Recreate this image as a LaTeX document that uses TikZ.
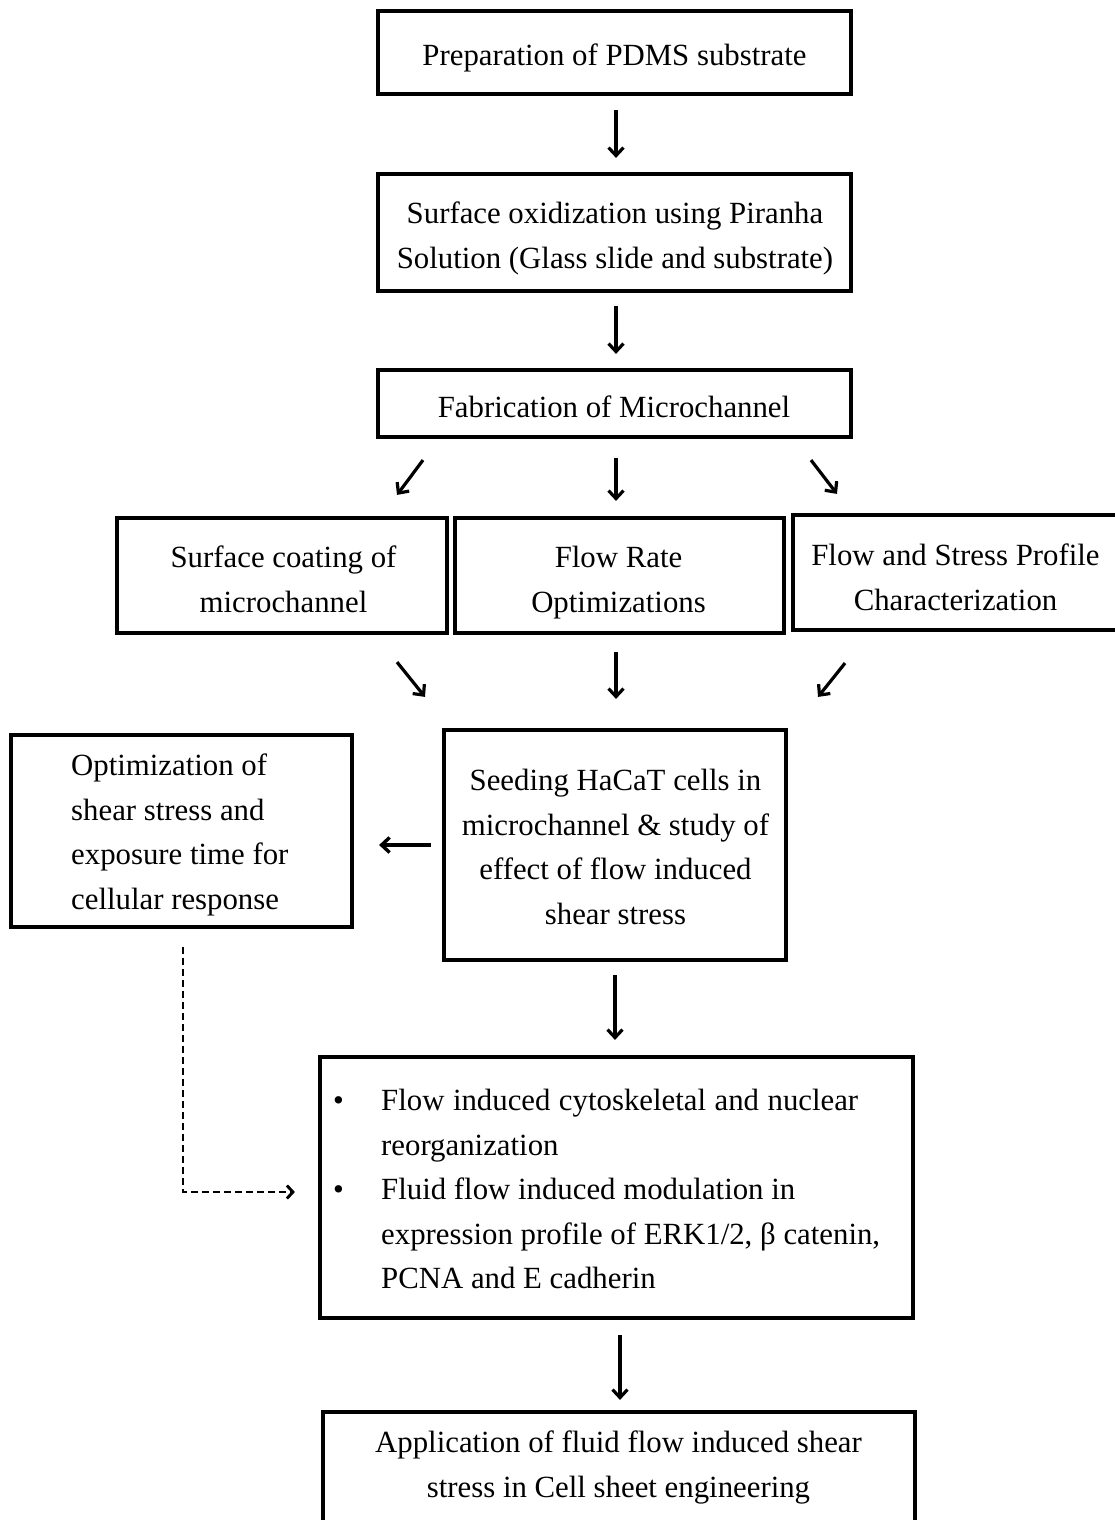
\documentclass[tikz,border=0pt]{standalone}
\usepackage{fontspec}
\setmainfont{Liberation Serif}
\usetikzlibrary{arrows.meta}
\begin{document}
\begin{tikzpicture}[x=1pt,y=-1pt,
  box/.style={draw=black, line width=3.2pt, inner sep=0pt, rectangle},
  txt/.style={inner sep=0pt, align=center, anchor=north, font=\fontsize{30.8pt}{44.5pt}\selectfont},
  txtl/.style={inner sep=0pt, align=left, anchor=north west, font=\fontsize{30.8pt}{44.5pt}\selectfont},
  arr/.style={line width=3.2pt, -{Straight Barb[length=8pt,width=15pt]}},
  dasharr/.style={line width=2.9pt, dash pattern=on 7pt off 4pt, -{Straight Barb[length=6pt,width=13pt]}}
]
\useasboundingbox (0,0) rectangle (1115,1520);
\fill[white] (0,0) rectangle (1115,1520);

% boxes
\node[box, minimum width=473pt, minimum height=83pt]  (pdms) at (614.5,52.5) {};
\node[box, minimum width=473pt, minimum height=117pt] (oxid) at (614.5,232.5) {};
\node[box, minimum width=473pt, minimum height=67pt]  (fab)  at (614.5,403.5) {};
\node[box, minimum width=330pt, minimum height=115pt] (coat) at (282,575.5) {};
\node[box, minimum width=329pt, minimum height=115pt] (rate) at (619.5,575.5) {};
\node[box, minimum width=326pt, minimum height=115pt] (prof) at (956,572.5) {};
\node[box, minimum width=342pt, minimum height=230pt] (seed) at (615,845) {};
\node[box, minimum width=341pt, minimum height=192pt] (optim) at (181.5,831) {};
\node[box, minimum width=593pt, minimum height=261pt] (bul) at (616.5,1187.5) {};
\node[box, minimum width=592pt, minimum height=156pt] (appl) at (619,1490) {};

% texts
\node[txt] (pdmst) at (614.5,44) {Preparation of PDMS substrate};
\node[txt] (oxidt) at (615,202) {Surface oxidization using Piranha\\Solution (Glass slide and substrate)};
\node[txt] (fabt) at (614,396) {Fabrication of Microchannel};
\node[txt] (coatt) at (283.5,546) {Surface coating of\\microchannel};
\node[txt] (ratet) at (618.5,546) {Flow Rate\\Optimizations};
\node[txt] (proft) at (955.5,544) {Flow and Stress Profile\\Characterization};
\node[txt] (seedt) at (615.5,769) {Seeding HaCaT cells in\\microchannel \& study of\\effect of flow induced\\shear stress};
\node[txtl] (optimt) at (71,754) {Optimization of\\shear stress and\\exposure time for\\cellular response};
\node[txtl] (bult) at (333,1089) {\makebox[48pt][l]{•}\makebox[477pt][s]{Flow induced cytoskeletal and nuclear}\\
\hspace*{48pt}reorganization\\
\makebox[48pt][l]{•}Fluid flow induced modulation in\\
\hspace*{48pt}expression profile of ERK1/2, β catenin,\\
\hspace*{48pt}PCNA and E cadherin};
\node[txt] (applt) at (618.5,1431) {Application of fluid flow induced shear\\stress in Cell sheet engineering};

% arrows
\draw[arr] ([shift={(1.5,14.5)}]pdms.south) -- ([shift={(1.5,-14.5)}]oxid.north);
\draw[arr] ([shift={(1.5,13.5)}]oxid.south) -- ([shift={(1.5,-14.5)}]fab.north);
\draw[arr] ([shift={(-191.5,21.5)}]fab.south) -- ([shift={(115,-21.5)}]coat.north);
\draw[arr] ([shift={(1.5,19.5)}]fab.south) -- ([shift={(-3.5,-15.5)}]rate.north);
\draw[arr] ([shift={(196.5,21.5)}]fab.south) -- ([shift={(-119,-19.5)}]prof.north);
\draw[arr] ([shift={(115,27.5)}]coat.south) -- ([shift={(-190,-31.5)}]seed.north);
\draw[arr] ([shift={(-3.5,17.5)}]rate.south) -- ([shift={(1,-29.5)}]seed.north);
\draw[arr] ([shift={(-111,31.5)}]prof.south) -- ([shift={(203,-31.5)}]seed.north);
\draw[arr, line width=3.4pt] ([shift={(-11.5,0)}]seed.west) -- ([shift={(25.5,14)}]optim.east);
\draw[arr] ([shift={(0,13.5)}]seed.south) -- ([shift={(-1.5,-15.5)}]bul.north);
\draw[arr] ([shift={(3.5,15.5)}]bul.south) -- ([shift={(1,-10.5)}]appl.north);
\draw[dasharr] ([shift={(1.5,18.5)}]optim.south) |- ([shift={(-23.5,4.5)}]bul.west);
\end{tikzpicture}
\end{document}
